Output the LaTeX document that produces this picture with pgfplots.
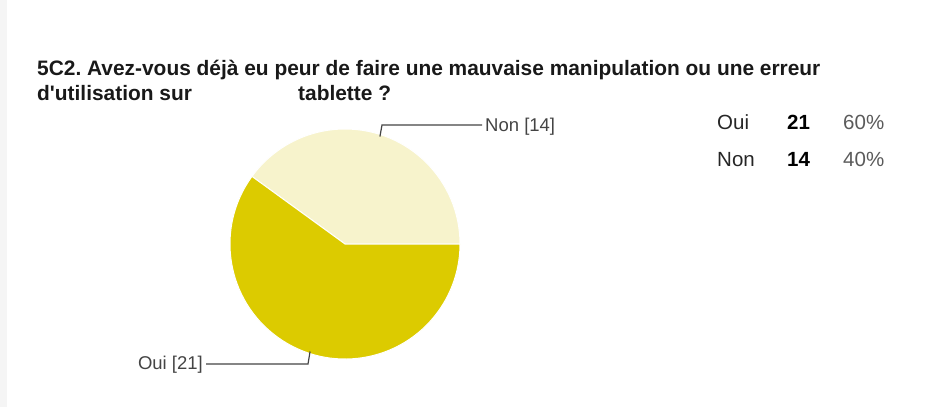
\documentclass[border=0pt]{standalone}
\usepackage{fontspec}
\setmainfont{Liberation Sans}
\newfontfamily\titlefont{Liberation Sans}
\usepackage{pgfplots}
\pgfplotsset{compat=1.18}
\usepackage{pgfplotstable}
\definecolor{ouicol}{RGB}{220,203,0}
\definecolor{noncol}{RGB}{247,243,204}
\definecolor{labgray}{RGB}{68,68,68}
\definecolor{pctgray}{RGB}{90,90,90}

% answers: Oui / Non
\pgfplotstableread{
label value
Oui 21
Non 14
}\piedata

\begin{document}
\frenchspacing
\begin{tikzpicture}
\pgfplotstablegetelem{0}{value}\of\piedata \let\vOui\pgfplotsretval
\pgfplotstablegetelem{1}{value}\of\piedata \let\vNon\pgfplotsretval
\pgfmathsetmacro{\total}{\vOui+\vNon}
\pgfmathsetmacro{\aNon}{360*\vNon/\total}
\pgfmathsetmacro{\mNon}{\aNon/2}
\pgfmathsetmacro{\mOui}{\aNon+(360-\aNon)/2}
\pgfmathtruncatemacro{\pOui}{round(100*\vOui/\total)}
\pgfmathtruncatemacro{\pNon}{round(100*\vNon/\total)}
\def\R{115pt}
\begin{axis}[scale only axis, width=937pt, height=407pt,
  xmin=0, xmax=937, ymin=0, ymax=407, y dir=reverse,
  hide axis, clip=false]
\coordinate (tl) at (axis cs:0,0);
\coordinate (br) at (axis cs:937,407);
% left page edge
\fill[gray!8] (axis cs:0,0) rectangle (axis cs:7,407);
% slices
\fill[noncol, draw=white, line width=1pt] (axis cs:345,244) -- ++(0:\R) arc[start angle=0, end angle=\aNon, radius=\R] -- cycle;
\fill[ouicol, draw=white, line width=1pt] (axis cs:345,244) -- ++(\aNon:\R) arc[start angle=\aNon, end angle=360, radius=\R] -- cycle;
% leader lines
\draw[labgray, line width=1.2pt] (axis cs:345,244) ++(\mNon:\R-2pt) -- (axis cs:382,125) -- (axis cs:482,125);
\draw[labgray, line width=1.2pt] (axis cs:345,244) ++(\mOui:\R-2pt) -- (axis cs:308,364) -- (axis cs:206,364);
\node[anchor=west, text=labgray, font=\fontsize{18.5}{20}\selectfont, inner sep=0pt] at (axis cs:485,127) {Non [\vNon]};
\node[anchor=east, text=labgray, font=\fontsize{18.5}{20}\selectfont, inner sep=0pt] at (axis cs:203,365) {Oui [\vOui]};
% title
\node[anchor=base west, inner sep=0pt, font=\titlefont\bfseries\fontsize{20.9}{25}\selectfont, text=black!90] at (axis cs:37,75)
  {5C2. Avez-vous déjà eu peur de faire une mauvaise manipulation ou une erreur};
\node[anchor=base west, inner sep=0pt, font=\titlefont\bfseries\fontsize{20.9}{25}\selectfont, text=black!90] at (axis cs:37,100)
  {d'utilisation sur};
\node[anchor=base west, inner sep=0pt, font=\titlefont\bfseries\fontsize{20.9}{25}\selectfont, text=black!90] at (axis cs:298,100)
  {tablette ?};
% summary table
\node[anchor=base west, inner sep=0pt, font=\fontsize{20.5}{22}\selectfont, text=black!85] at (axis cs:717,129) {Oui};
\node[anchor=base west, inner sep=0pt, font=\bfseries\fontsize{20.5}{22}\selectfont] at (axis cs:787,129) {\vOui};
\node[anchor=base west, inner sep=0pt, font=\fontsize{20.5}{22}\selectfont, text=pctgray] at (axis cs:843,129) {\pOui\%};
\node[anchor=base west, inner sep=0pt, font=\fontsize{20.5}{22}\selectfont, text=black!85] at (axis cs:717,166) {Non};
\node[anchor=base west, inner sep=0pt, font=\bfseries\fontsize{20.5}{22}\selectfont] at (axis cs:787,166) {\vNon};
\node[anchor=base west, inner sep=0pt, font=\fontsize{20.5}{22}\selectfont, text=pctgray] at (axis cs:843,166) {\pNon\%};
\end{axis}
\pgfresetboundingbox
\useasboundingbox (tl) rectangle (br);
\end{tikzpicture}
\end{document}
